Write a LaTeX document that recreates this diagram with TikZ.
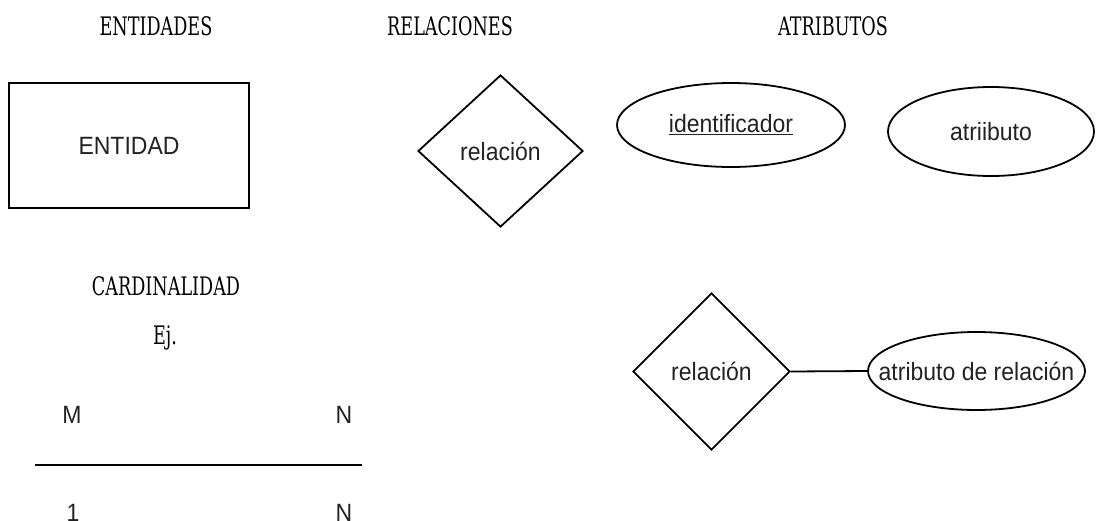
\documentclass[tikz,border=0pt]{standalone}
\usepackage{fontspec}
\setmainfont{DejaVu Serif}
\newfontfamily\diasans{Liberation Sans}
\usetikzlibrary{shapes.geometric}
\definecolor{txtgray}{HTML}{222222}
\tikzset{
  heading/.style={font=\fontsize{25.5}{30}\selectfont, xscale=0.69, anchor=base, inner sep=0pt},
  sanstext/.style={font=\diasans\fontsize{25}{29}\selectfont, text=txtgray, xscale=0.92},
  entitybox/.style={draw, line width=1.8pt, minimum width=240pt, minimum height=125pt},
  relbox/.style={draw, diamond, line width=1.8pt, inner sep=0pt},
  attrbox/.style={draw, ellipse, line width=1.8pt, inner sep=0pt},
  cardtext/.style={sanstext, anchor=base, inner sep=0pt},
  link/.style={line width=1.8pt}
}
\begin{document}
\begin{tikzpicture}[x=1pt,y=-1pt]
\useasboundingbox (0,0) rectangle (1096,520);
% headings
\node[heading] (hEnt) at (156,35) {ENTIDADES};
\node[heading] (hRel) at (450,35) {RELACIONES};
\node[heading] (hAtr) at (833,35) {ATRIBUTOS};
\node[heading] (hCard) at (166,295) {CARDINALIDAD};
\node[heading] (hEj) at (165,344) {Ej.};
% entity
\node[entitybox, label={[sanstext]center:ENTIDAD}] (ent) at (129,145.5) {};
% relation
\node[relbox, minimum width=165pt, minimum height=152pt,
      label={[sanstext]center:relación}] (rel) at (500.5,151) {};
% attributes
\node[attrbox, minimum width=228pt, minimum height=84pt,
      label={[sanstext]center:\underline{identificador}}] (ident) at (731,125) {};
\node[attrbox, minimum width=206pt, minimum height=89pt,
      label={[sanstext]center:atriibuto}] (attr) at (991,131.5) {};
% relation with attribute
\node[relbox, minimum width=157pt, minimum height=157pt,
      label={[sanstext]center:relación}] (rel2) at (711.5,371.5) {};
\node[attrbox, minimum width=217pt, minimum height=78pt,
      label={[sanstext]center:atributo de relación}] (relattr) at (976.5,371) {};
\draw[link] (rel2.east) -- (relattr.west);
% cardinality
\node[cardtext] (cM) at (72,423) {M};
\node[cardtext] (cN1) at (344,423) {N};
\coordinate (lineL) at (35,465);
\coordinate (lineR) at (362,465);
\draw[link] (lineL) -- (lineR);
\node[cardtext] (c1) at (73,521) {1};
\node[cardtext] (cN2) at (344,521) {N};
\end{tikzpicture}
\end{document}
